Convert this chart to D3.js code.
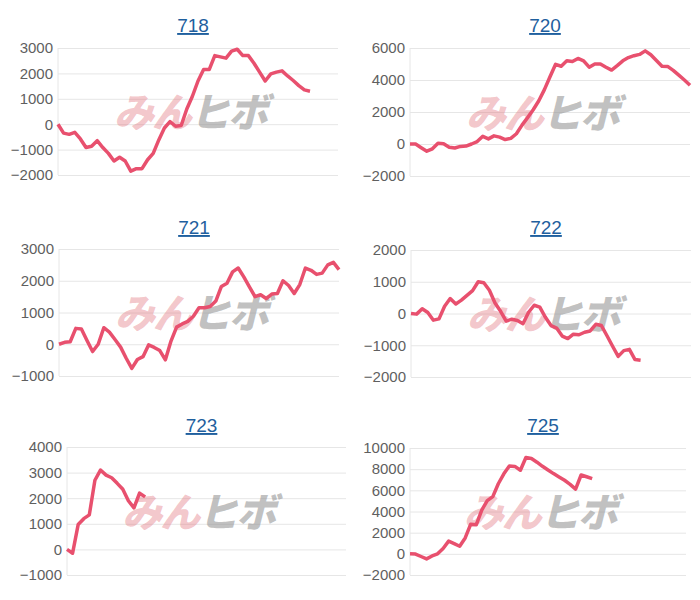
<!DOCTYPE html>
<html>
<head>
<meta charset="utf-8">
<script src="https://cdn.jsdelivr.net/npm/d3@7"></script>
<style>
  body { margin: 0; background: #fff; font-family: "Liberation Sans", Arial, sans-serif; }
  .grid line { stroke: #e6e6e6; }
  .tick text { fill: #5f5f5f; font-size: 15px; }
</style>
</head>
<body>
<svg id="chart" width="700" height="600"></svg>
<script>
const titles = ['718', '720', '721', '722', '723', '725'];
const s718 = [0,-350,-400,-320,-580,-920,-870,-650,-920,-1150,-1450,-1300,-1450,-1850,-1750,-1750,-1400,-1150,-620,-150,100,-80,-50,600,1100,1700,2150,2150,2700,2650,2600,2880,2950,2700,2700,2400,2050,1700,1980,2050,2100,1900,1720,1520,1350,1300];
const s720 = [0,0,-230,-450,-300,50,20,-200,-250,-150,-130,0,150,480,320,510,430,280,350,640,1180,1650,2140,2700,3400,4200,4980,4860,5200,5150,5350,5200,4800,5000,5000,4800,4620,4900,5200,5400,5520,5600,5820,5580,5220,4860,4850,4600,4300,4000,3670];
const s721 = [0,60,80,500,480,120,-230,0,520,380,150,-90,-440,-760,-480,-390,-20,-100,-200,-490,100,540,640,720,880,1150,1150,1190,1360,1820,1920,2280,2400,2120,1810,1500,1560,1440,1580,1600,2000,1850,1600,1880,2400,2330,2200,2240,2500,2580,2350];
const s722 = [0,-20,150,30,-210,-170,230,470,300,420,570,720,1000,970,730,330,70,-240,-180,-220,-320,40,260,200,-120,-380,-460,-710,-790,-650,-670,-590,-550,-340,-380,-700,-1030,-1350,-1170,-1130,-1450,-1470];
const s723 = [0,-150,970,1200,1350,2700,3100,2900,2800,2580,2350,1900,1620,2200,2050];
const s725 = [0,-20,-250,-480,-200,0,500,1200,970,720,1500,2800,2740,4140,5030,5400,6620,7560,8300,8260,7900,9100,9000,8660,8270,7920,7580,7260,6950,6570,6120,7450,7280,7100];
const series = [s718, s720, s721, s722, s723, s725];
const yTicks = [
  [-2000,-1000,0,1000,2000,3000],
  [-2000,0,2000,4000,6000],
  [-1000,0,1000,2000,3000],
  [-2000,-1000,0,1000,2000],
  [-1000,0,1000,2000,3000,4000],
  [-2000,0,2000,4000,6000,8000,10000]
];
const slots = 50;

// panel boxes (plot area)
const boxes = [
  {x0: 58, x1: 338, top: 48, bottom: 175, ty: 25},
  {x0: 410, x1: 690, top: 48, bottom: 176, ty: 25},
  {x0: 59, x1: 339, top: 249, bottom: 376, ty: 227},
  {x0: 411, x1: 691, top: 250, bottom: 377, ty: 227},
  {x0: 67, x1: 346, top: 447, bottom: 575, ty: 425},
  {x0: 410, x1: 686, top: 448, bottom: 575, ty: 425}
];

const svg = d3.select('#chart');

series.forEach((data, k) => {
  const b = boxes[k];
  const t = yTicks[k];
  const x = d3.scaleLinear().domain([0, slots]).range([b.x0, b.x1]);
  const y = d3.scaleLinear().domain([t[0], t[t.length - 1]]).range([b.bottom, b.top]);
  const g = svg.append('g');

  g.append('text')
    .attr('x', (b.x0 + b.x1) / 2 - 5)
    .attr('y', b.ty + 7)
    .attr('text-anchor', 'middle')
    .attr('font-size', 19)
    .attr('fill', '#1f5f9e')
    .attr('text-decoration', 'underline')
    .text(titles[k]);

  const ax = g.append('g').attr('class', 'grid')
    .attr('transform', `translate(${b.x0},0)`)
    .call(d3.axisLeft(y).tickValues(t).tickSize(-(b.x1 - b.x0)).tickPadding(5).tickFormat(d3.format('d')));
  ax.select('.domain').remove();
  ax.selectAll('.tick line').attr('stroke', d => d === 0 ? '#aaa' : '#e6e6e6');

  g.append('line')
    .attr('x1', b.x0).attr('x2', b.x0)
    .attr('y1', b.top).attr('y2', b.bottom)
    .attr('stroke', '#e6e6e6');

  // watermark
  const cx = (b.x0 + b.x1) / 2 - 8;
  const cy = (b.top + b.bottom) / 2 + 16;
  const wm = g.append('text')
    .attr('x', cx).attr('y', cy)
    .attr('text-anchor', 'middle')
    .attr('font-family', 'Noto Sans CJK JP')
    .attr('font-weight', 900)
    .attr('font-size', 40)
    .attr('letter-spacing', -2)
    .attr('transform', `skewX(-14) translate(${cy * 0.249},0)`);
  wm.append('tspan').attr('fill', 'rgba(225,110,120,0.4)').text('みん');
  wm.append('tspan').attr('fill', 'rgba(140,140,140,0.55)').text('ヒボ');

  g.append('path')
    .datum(data)
    .attr('fill', 'none')
    .attr('stroke', '#e8506e')
    .attr('stroke-width', 3.5)
    .attr('stroke-linejoin', 'round')
    .attr('d', d3.line().x((d, i) => x(i)).y(d => y(d)));
});
</script>
</body>
</html>
